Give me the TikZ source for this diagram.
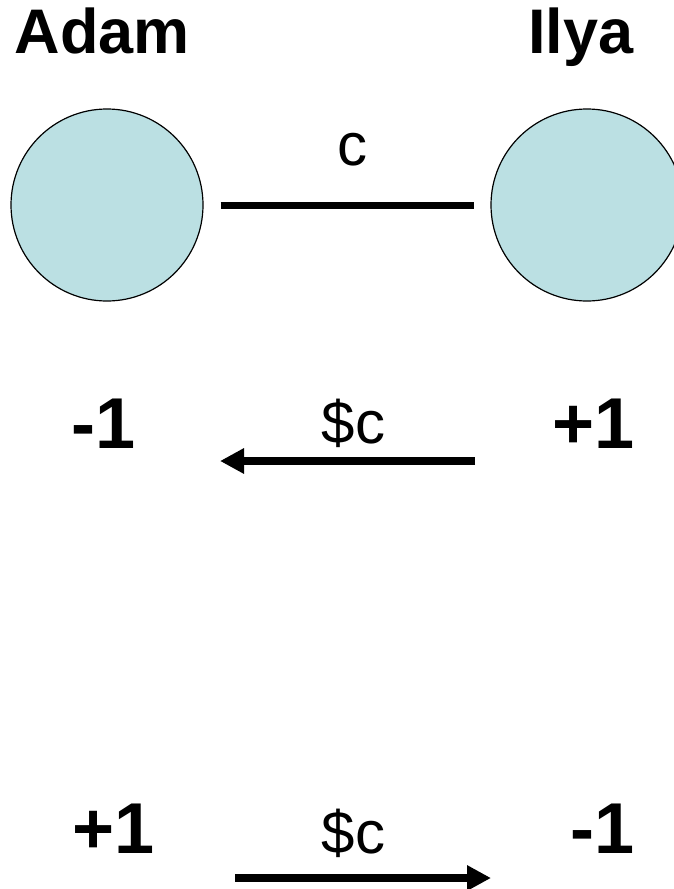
\documentclass[tikz,border=0pt]{standalone}
\usepackage{fontspec}
\setmainfont{Liberation Sans}
\usetikzlibrary{positioning, arrows.meta}
\definecolor{personfill}{HTML}{BBE0E3}

\newcommand\namefont{\fontsize{63}{70}\selectfont\bfseries}
\newcommand\scorefont{\fontsize{72}{80}\selectfont\bfseries}
\newcommand\costfont{\fontsize{60}{68}\selectfont}

\begin{document}
\begin{tikzpicture}[
  x=1pt, y=-1pt,
  person/.style={
    circle, draw=black, line width=1.2pt, fill=personfill,
    minimum size=192pt, inner sep=0pt
  },
  playername/.style={anchor=base, inner sep=0pt, font=\namefont},
  score/.style={anchor=base, inner sep=0pt, font=\scorefont},
  cost/.style={anchor=base, inner sep=0pt, font=\costfont},
  link/.style={line width=7pt, draw=black},
  pay/.style={-{Triangle[length=24pt, width=24pt]}, line width=8pt, draw=black}
]
\useasboundingbox (0,0) rectangle (674,889);

% Players
\node[playername] (adamname) at (102.5,53) {Adam};
\node[playername] (ilyaname) at (581,53) {Ilya};
\node[person] (adam) at (107,205) {};
\node[person] (ilya) at (587,205) {};

% Edge with cost
\node[cost] (edgecost) at (352,165) {c};
\draw[link, shorten <=17pt, shorten >=16pt] (adam) -- (ilya);

% First payment: Ilya pays Adam
\node[score] (adamminus) at (103.5,448) {-1};
\node[score] (ilyaplus) at (593.5,448) {+1};
\node[cost] (paytop) at (353.5,443) {\$c};
\coordinate (payAfrom) at (475,461);
\coordinate (payAto) at (220,461);
\draw[pay] (payAfrom) -- (payAto);

% Second payment: Adam pays Ilya
\node[score] (adamplus) at (113.5,853) {+1};
\node[score] (ilyaminus) at (602.5,853) {-1};
\node[cost] (paybottom) at (353.5,853) {\$c};
\coordinate (payBfrom) at (235,878);
\coordinate (payBto) at (491,878);
\draw[pay] (payBfrom) -- (payBto);

\end{tikzpicture}
\end{document}
